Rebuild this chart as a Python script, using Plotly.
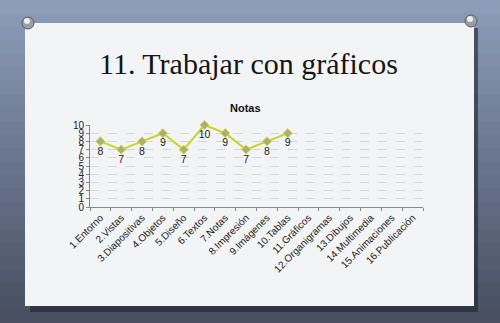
import plotly.graph_objects as go

categories = ["1.Entorno", "2.Vistas", "3.Diapositivas", "4.Objetos", "5.Diseño", "6.Textos",
              "7.Notas", "8.Impresión", "9.Imágenes", "10.Tablas", "11.Gráficos",
              "12.Organigramas", "13.Dibujos", "14.Multimedia", "15.Animaciones", "16.Publicación"]
notas = [8, 7, 8, 9, 7, 10, 9, 7, 8, 9, None, None, None, None, None, None]
y_ticks = list(range(0, 11))

W, H = 500, 323
L, R, T, B = 90, 423, 125, 207


def px(x):
    return (x - L) / (R - L)


def py(y):
    return (B - y) / (B - T)


shapes = []
# background gradient
n = 24
top = (140, 156, 185)
bot = (72, 80, 98)
for i in range(n):
    f = i / (n - 1)
    c = tuple(int(top[k] + (bot[k] - top[k]) * f) for k in range(3))
    y0 = H * i / n
    y1 = H * (i + 1) / n + 1
    shapes.append(dict(type="rect", xref="paper", yref="paper", layer="below",
                       x0=px(-5), x1=px(W + 5), y0=py(y1), y1=py(y0),
                       fillcolor="rgb(%d,%d,%d)" % c, line=dict(width=0)))
# shadow
shapes.append(dict(type="rect", xref="paper", yref="paper", layer="below",
                   x0=px(30), x1=px(478), y0=py(312), y1=py(28),
                   fillcolor="rgba(30,35,50,0.6)", line=dict(width=0)))
# paper
shapes.append(dict(type="rect", xref="paper", yref="paper", layer="below",
                   x0=px(25), x1=px(474), y0=py(306), y1=py(23),
                   fillcolor="#f3f4f6", line=dict(width=0)))
# pins
for cx, cy in [(28, 23), (471, 21)]:
    shapes.append(dict(type="circle", xref="paper", yref="paper", layer="above",
                       x0=px(cx - 6), x1=px(cx + 6), y0=py(cy + 6), y1=py(cy - 6),
                       fillcolor="#9a9ea6", line=dict(color="#5a5e66", width=1)))
    shapes.append(dict(type="circle", xref="paper", yref="paper", layer="above",
                       x0=px(cx - 4), x1=px(cx + 2), y0=py(cy + 1), y1=py(cy - 5),
                       fillcolor="#eceef0", line=dict(width=0)))

fig = go.Figure()
fig.add_trace(go.Scatter(
    x=categories, y=notas, mode="lines+markers+text",
    line=dict(color="#c9d42a", width=2),
    marker=dict(symbol="diamond", size=7, color="#a9ae7a", line=dict(color="#d4dc3a", width=1)),
    text=[str(v) if v is not None else "" for v in notas],
    textposition="bottom center",
    textfont=dict(family="Liberation Sans, Arial", size=10.5, color="#222222"),
    cliponaxis=False, showlegend=False,
))

fig.update_layout(
    width=W, height=H,
    margin=dict(l=L, r=W - R, t=T, b=H - B, pad=0),
    paper_bgcolor="#6d7891", plot_bgcolor="rgba(0,0,0,0)",
    shapes=shapes,
    annotations=[
        dict(text="11. Trabajar con gráficos", xref="paper", yref="paper",
             x=px(248), y=py(63), showarrow=False, xanchor="center", yanchor="middle",
             font=dict(family="Liberation Serif, DejaVu Serif", size=30, color="#151515")),
        dict(text="<b>Notas</b>", xref="paper", yref="paper",
             x=px(245), y=py(108), showarrow=False, xanchor="center", yanchor="middle",
             font=dict(family="Liberation Sans, Arial", size=11, color="#111111")),
    ],
    xaxis=dict(type="category", categoryorder="array", categoryarray=categories,
               range=[-0.5, 15.5], tickangle=-45, tickson="boundaries",
               ticks="outside", ticklen=3, tickcolor="#888888",
               showline=True, linecolor="#888888", linewidth=1, showgrid=False,
               tickfont=dict(family="Liberation Sans, Arial", size=10, color="#222222")),
    yaxis=dict(range=[0, 10], tickvals=y_ticks, ticks="outside", ticklen=3,
               tickcolor="#888888", showline=True, linecolor="#888888", linewidth=1,
               showgrid=True, gridcolor="#d4d6da", griddash="dash", gridwidth=1,
               zeroline=False,
               tickfont=dict(family="Liberation Sans, Arial", size=10, color="#222222")),
)

fig.write_html("out.html")
